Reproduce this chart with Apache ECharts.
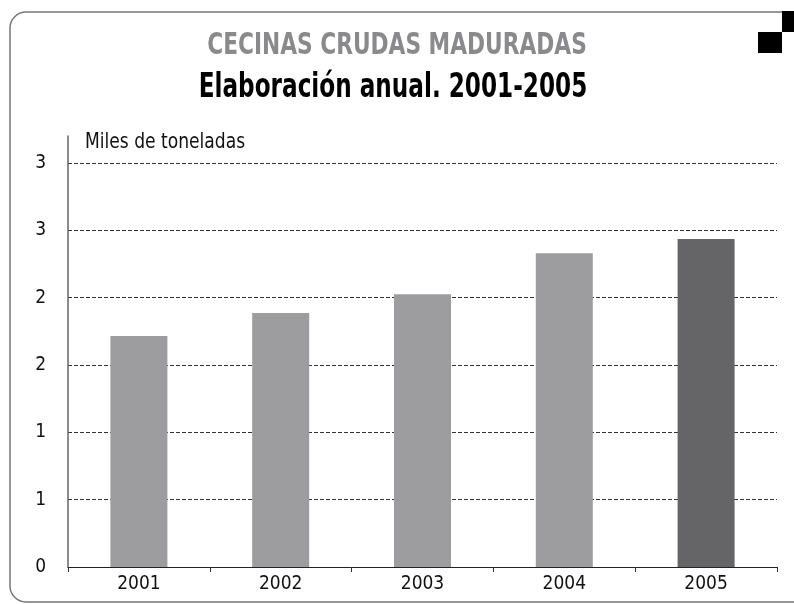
<!DOCTYPE html>
<html lang="es">
<head>
	<meta charset="UTF-8">
	<title>Cecinas crudas maduradas</title>
	<style>
		html,body{margin:0;padding:0;background:#fff;}
		#main{width:794px;height:604px;}
	</style>
</head>
<body>
	<div id="main"></div>
	<script src="https://cdn.jsdelivr.net/npm/echarts@6/dist/echarts.min.js"></script>
	<script>
		// datos
		var years = ['2001', '2002', '2003', '2004', '2005'];
		var miles = [1.715, 1.885, 2.025, 2.33, 2.435];
		var yTicks = ['0', '1', '1', '2', '2', '3', '3'];  // etiquetas tal cual salen (redondeadas)

		var font = '"DejaVu Sans Condensed", sans-serif';

		var myChart = echarts.init(document.getElementById('main'));
		var option = {
			animation: false,
			backgroundColor: '#fff',
			// titulos con letra estrecha: se estiran a lo alto con scaleX < 1
			graphic: [
				{type: 'rect', shape: {x: 10, y: 12, width: 820, height: 590, r: 16}, style: {fill: null, stroke: '#777', lineWidth: 1.5}, silent: true},
				{type: 'rect', shape: {x: 782, y: 11, width: 12, height: 21}, style: {fill: '#000'}},
				{type: 'rect', shape: {x: 758, y: 32, width: 24, height: 21}, style: {fill: '#000'}},
				{type: 'text', x: 397, y: 46, scaleX: 0.805,
					style: {text: 'CECINAS CRUDAS MADURADAS', font: 'bold 30px ' + font, fill: '#8a8a8c', textAlign: 'center', textVerticalAlign: 'middle'}},
				{type: 'text', x: 393, y: 88, scaleX: 0.78,
					style: {text: 'Elaboración anual. 2001-2005', font: 'bold 33px ' + font, fill: '#000', textAlign: 'center', textVerticalAlign: 'middle'}},
				{type: 'text', x: 85, y: 142, scaleX: 0.865,
					style: {text: 'Miles de toneladas', font: '22px ' + font, fill: '#111', textAlign: 'left', textVerticalAlign: 'middle'}}
			],
			grid: {left: 68, right: 17, top: 136, bottom: 37, containLabel: false},
			xAxis: {
				type: 'category',
				data: years,
				axisLine: {lineStyle: {color: '#222', width: 1}},
				axisTick: {show: true, length: 5, lineStyle: {color: '#333'}},
				axisLabel: {fontFamily: font, fontSize: 19, color: '#111', margin: 8}
			},
			yAxis: {
				type: 'value',
				min: 0,
				max: 3.2,
				interval: 0.5,
				axisLine: {show: true, lineStyle: {color: '#666', width: 1.5}},
				axisTick: {show: false},
				axisLabel: {
					fontFamily: font, fontSize: 19, color: '#111', margin: 22,
					showMaxLabel: false,
					formatter: function (v) {
						var i = Math.round(v / 0.5);
						return yTicks[i] !== undefined ? yTicks[i] : '';
					}
				},
				splitLine: {show: true, showMaxLine: false, lineStyle: {color: '#333', type: [4, 2], width: 1}}
			},
			series: [{
				type: 'bar',
				data: miles,
				barWidth: 57,
				itemStyle: {
					color: function (p) {
						return p.dataIndex === years.length - 1 ? '#656567' : '#9d9d9f';
					}
				}
			}]
		};
		myChart.setOption(option);
	</script>
</body>
</html>
